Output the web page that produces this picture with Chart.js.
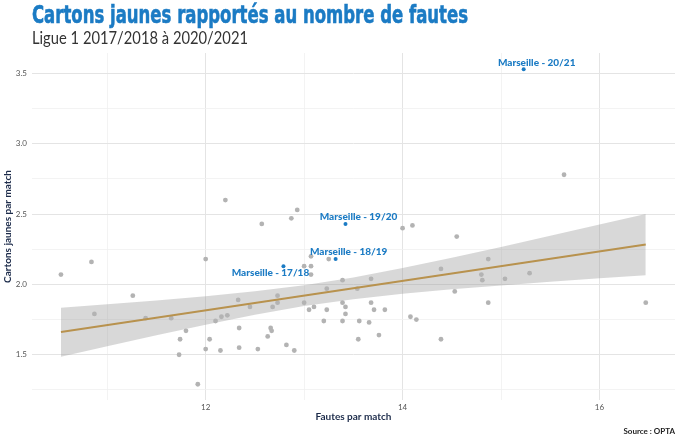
<!DOCTYPE html>
<html lang="fr">
<head>
<meta charset="utf-8">
<title>Cartons jaunes rapportés au nombre de fautes</title>
<script src="https://cdn.jsdelivr.net/npm/chart.js@4.4.1/dist/chart.umd.min.js"></script>
<style>
  html, body { margin: 0; padding: 0; background: #fff; }
  #wrap { position: relative; width: 680px; height: 441px; overflow: hidden; }
  #chart { position: absolute; left: 0; top: 0; }
  #title {
    position: absolute; left: 32px; top: 2px;
    font-family: "Liberation Sans Narrow", "DejaVu Sans Condensed", sans-serif;
    font-weight: bold; font-size: 25px; line-height: 1;
    color: #1b7bc4; white-space: nowrap; transform-origin: 0 0;
    -webkit-text-stroke: 0.6px #1b7bc4;
  }
  #subtitle {
    position: absolute; left: 32px; top: 30px;
    font-family: Lato, "Open Sans", sans-serif;
    font-size: 16.5px; line-height: 1; color: #333; white-space: nowrap;
    transform-origin: 0 0;
  }
  #source {
    position: absolute; right: 5px; top: 427px;
    font-family: Lato, sans-serif; font-weight: bold;
    font-size: 8px; line-height: 1; color: #222;
  }
</style>
</head>
<body>
<div id="wrap">
  <canvas id="chart" width="680" height="441"></canvas>
  <div id="title">Cartons jaunes rapportés au nombre de fautes</div>
  <div id="subtitle">Ligue 1 2017/2018 à 2020/2021</div>
  <div id="source">Source : OPTA</div>
</div>
<script>
// ========== DATA ==========
// fautes par match / cartons jaunes par match, toutes les équipes sauf Marseille
const teamFouls = [
  10.53, 10.84, 11.26, 10.87, 11.39, 11.65, 11.74, 11.73, 11.80, 11.92,
  12.20, 12.93, 12.57, 12.87, 12.00, 13.25, 13.00, 13.07, 13.07, 13.07,
  13.39, 13.23, 12.73, 12.33, 12.45, 12.68, 12.73, 13.00, 13.10, 13.05,
  13.23, 13.39, 13.42, 13.42, 13.39, 13.20, 13.56, 12.22, 12.16, 12.10,
  12.34, 12.66, 12.67, 12.63, 12.04, 12.00, 12.15, 12.34, 12.53, 12.82,
  12.90, 13.55, 14.00, 14.10, 14.55, 14.87, 14.39, 13.68, 14.80, 14.81,
  15.04, 15.29, 13.54, 14.53, 13.68, 13.71, 13.82, 14.87, 13.66, 14.08,
  14.14, 13.76, 14.39, 15.64, 16.47
];
const teamYellows = [
  2.07, 2.16, 1.92, 1.79, 1.76, 1.76, 1.61, 1.50, 1.67, 1.29,
  2.60, 2.53, 2.43, 2.47, 2.18, 2.18, 2.13, 2.13, 2.20, 2.07,
  2.03, 1.97, 1.92, 1.89, 1.84, 1.84, 1.87, 1.87, 1.84, 1.82,
  1.82, 1.87, 1.84, 1.79, 1.74, 1.74, 1.74, 1.78, 1.77, 1.74,
  1.69, 1.69, 1.67, 1.63, 1.61, 1.54, 1.53, 1.55, 1.54, 1.57,
  1.53, 1.61, 2.40, 2.42, 2.34, 2.18, 2.11, 2.04, 2.07, 2.03,
  2.04, 2.08, 1.97, 1.95, 1.87, 1.82, 1.82, 1.87, 1.73, 1.77,
  1.75, 1.64, 1.61, 2.78, 1.87
];

// Marseille
const omSeasons = ['17/18', '18/19', '19/20', '20/21'];
const omFouls = [12.79, 13.32, 13.42, 15.23];
const omYellows = [2.13, 2.18, 2.43, 3.53];

// droite de régression et intervalle de confiance
const trendX = [10.53, 16.47];
const trendY = [1.661, 2.284];
const bandX = [10.53, 11, 11.5, 12, 12.5, 13, 13.5, 14, 14.5, 15, 15.5, 16, 16.47];
const bandHigh = [1.835, 1.859, 1.886, 1.916, 1.951, 1.995, 2.050, 2.117, 2.190, 2.267, 2.346, 2.426, 2.501];
const bandLow = [1.486, 1.561, 1.639, 1.714, 1.784, 1.846, 1.895, 1.933, 1.965, 1.993, 2.019, 2.044, 2.066];

// axes
const xGridValues = [11, 12, 13, 14, 15, 16];
const xLabelValues = [12, 14, 16];
const yGridValues = [1.25, 1.5, 1.75, 2.0, 2.25, 2.5, 2.75, 3.0, 3.25, 3.5];
const yLabelValues = [1.5, 2.0, 2.5, 3.0, 3.5];

// ========== COLOURS ==========
const blue = '#1b7bc4';
const navy = '#1c2b4a';
const gridMajor = '#e4e4e4';
const gridMinor = '#f0f0f0';

const toPoints = (xs, ys) => xs.map((x, i) => ({ x: x, y: ys[i] }));

// ========== TITLE WIDTHS ==========
function fitWidth(id, target) {
  const el = document.getElementById(id);
  const w = el.getBoundingClientRect().width;
  el.style.transform = 'scaleX(' + (target / w) + ')';
}
fitWidth('title', 436);
fitWidth('subtitle', 216);

// ========== MARSEILLE LABELS ==========
const labelOffsets = [[-13, 7], [13, -7], [13, -7], [13, -7]];

const omLabels = {
  id: 'omLabels',
  afterDatasetsDraw(chart) {
    const meta = chart.getDatasetMeta(4);
    const ctx = chart.ctx;
    ctx.save();
    ctx.font = '900 10px Lato, sans-serif';
    ctx.fillStyle = blue;
    ctx.textAlign = 'center';
    ctx.textBaseline = 'middle';
    meta.data.forEach((pt, i) => {
      const off = labelOffsets[i];
      ctx.fillText('Marseille - ' + omSeasons[i], pt.x + off[0], pt.y + off[1]);
    });
    ctx.restore();
  }
};

// ========== CHART ==========
const ctx = document.getElementById('chart').getContext('2d');
const myChart = new Chart(ctx, {
  type: 'scatter',
  data: {
    datasets: [
      {
        type: 'line',
        data: toPoints(bandX, bandHigh),
        borderWidth: 0,
        pointRadius: 0,
        fill: '+1',
        backgroundColor: 'rgba(153,153,153,0.38)',
        order: 5
      },
      {
        type: 'line',
        data: toPoints(bandX, bandLow),
        borderWidth: 0,
        pointRadius: 0,
        fill: false,
        order: 5
      },
      {
        data: toPoints(teamFouls, teamYellows),
        pointRadius: 2.4,
        pointBorderWidth: 0,
        backgroundColor: '#b3b3b3',
        order: 4
      },
      {
        type: 'line',
        data: toPoints(trendX, trendY),
        borderColor: '#b8924e',
        borderWidth: 2,
        pointRadius: 0,
        fill: false,
        order: 3
      },
      {
        data: toPoints(omFouls, omYellows),
        pointRadius: 2,
        pointBorderWidth: 0,
        backgroundColor: blue,
        order: 1
      }
    ]
  },
  options: {
    responsive: false,
    animation: false,
    events: [],
    layout: { padding: { top: 53, right: 5, left: 0, bottom: 0 } },
    plugins: {
      legend: { display: false },
      tooltip: { enabled: false }
    },
    scales: {
      x: {
        type: 'linear',
        min: 10.236,
        max: 16.767,
        afterFit: (scale) => { scale.height = 41; },
        afterBuildTicks: (scale) => { scale.ticks = xGridValues.map(v => ({ value: v })); },
        border: { display: false },
        grid: {
          drawTicks: false,
          color: (c) => xLabelValues.includes(c.tick.value) ? gridMajor : gridMinor,
          lineWidth: (c) => xLabelValues.includes(c.tick.value) ? 1 : 0.8
        },
        ticks: {
          autoSkip: false,
          maxRotation: 0,
          padding: 3,
          color: '#555',
          font: { family: 'Lato', size: 8 },
          callback: (v) => xLabelValues.includes(v) ? String(v) : ''
        },
        title: {
          display: true,
          text: 'Fautes par match',
          color: navy,
          font: { family: 'Lato', size: 10, weight: 'bold' },
          padding: { top: 0, bottom: 18 }
        }
      },
      y: {
        type: 'linear',
        min: 1.178,
        max: 3.646,
        afterFit: (scale) => { scale.width = 32; },
        afterBuildTicks: (scale) => { scale.ticks = yGridValues.map(v => ({ value: v })); },
        border: { display: false },
        grid: {
          drawTicks: false,
          color: (c) => yLabelValues.includes(c.tick.value) ? gridMajor : gridMinor,
          lineWidth: (c) => yLabelValues.includes(c.tick.value) ? 1 : 0.8
        },
        ticks: {
          autoSkip: false,
          padding: 5,
          color: '#555',
          font: { family: 'Lato', size: 8 },
          callback: (v) => yLabelValues.includes(v) ? v.toFixed(1) : ''
        },
        title: {
          display: true,
          text: 'Cartons jaunes par match',
          color: navy,
          font: { family: 'Lato', size: 10, weight: 'bold' },
          padding: { top: 2, bottom: 0 }
        }
      }
    }
  },
  plugins: [omLabels]
});
</script>
</body>
</html>
